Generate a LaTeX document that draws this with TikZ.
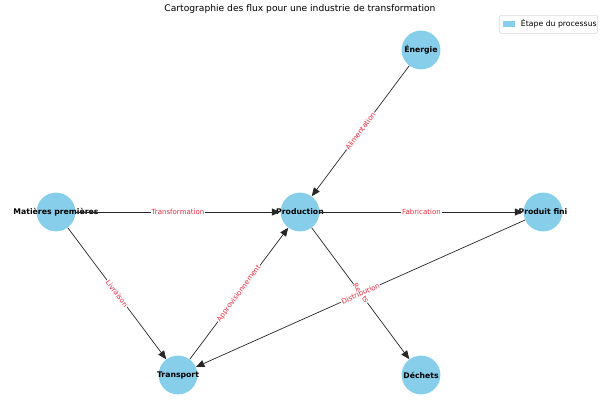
\documentclass[tikz,border=0pt]{standalone}
\usepackage{fontspec}
\setmainfont{DejaVu Sans}
\usetikzlibrary{arrows.meta}
\definecolor{nodeblue}{HTML}{87CEEB}
\definecolor{lblred}{HTML}{E8283C}
\begin{document}
\begin{tikzpicture}[x=0.025cm,y=-0.025cm,
  stage/.style={circle,fill=nodeblue,minimum size=0.97cm,inner sep=0pt,label={[font=\fontsize{5.5}{6}\selectfont\bfseries]center:#1}},
  flow/.style={-{Triangle[length=6pt,width=5pt]},black!85,line width=0.5pt},
  lbl/.style={midway,sloped,fill=white,inner sep=0.5pt,text=lblred,font=\fontsize{5}{6}\selectfont}]
\useasboundingbox (0,0) rectangle (600,414);
\node[font=\fontsize{6.5}{8}\selectfont] (title) at (300,9) {Cartographie des flux pour une industrie de transformation};
\node (legbox) [draw=black!15,rounded corners=1pt,minimum width=2.45cm,minimum height=0.45cm,anchor=north west] at (499,15) {};
\fill[nodeblue] (503,21) rectangle (515,27);
\node[anchor=west,font=\fontsize{5.5}{6}\selectfont] (legtxt) at (516,24) {Étape du processus};
\node[stage=Énergie] (E) at (421,50) {};
\node[stage=Matières premières] (M) at (56,212) {};
\node[stage=Production] (P) at (300,212) {};
\node[stage=Produit fini] (F) at (543,212) {};
\node[stage=Transport] (T) at (178,375) {};
\node[stage=Déchets] (D) at (421,375) {};
\draw[flow] (P) -- node[lbl]{Rejets} (D);
\draw[flow] (M) -- node[lbl]{Transformation} (P);
\draw[flow] (P) -- node[lbl]{Fabrication} (F);
\draw[flow] (E) -- node[lbl]{Alimentation} (P);
\draw[flow] (M) -- node[lbl]{Livraison} (T);
\draw[flow] (T) -- node[lbl]{Approvisionnement} (P);
\draw[flow] (F) -- node[lbl]{Distribution} (T);
\end{tikzpicture}
\end{document}
